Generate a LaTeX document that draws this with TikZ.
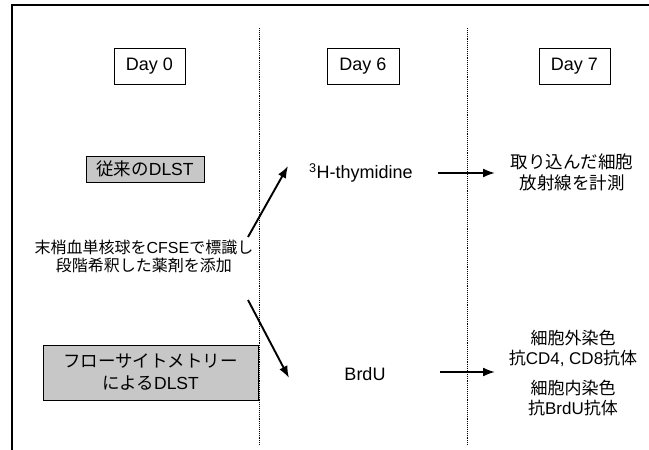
\documentclass[tikz,border=0pt]{standalone}
\usepackage{fontspec}
\setmainfont{Liberation Sans}
\newfontfamily\jp{Noto Sans CJK JP}
\usetikzlibrary{arrows.meta}
\tikzset{
  daybox/.style={draw=black, line width=1pt, minimum width=72, minimum height=36, inner sep=0pt, font=\fontsize{18}{20}\selectfont},
  graybox/.style={draw=black, line width=1pt, fill=black!22, inner sep=0pt, align=center, font=\fontsize{17.5}{21}\selectfont},
  txt/.style={align=center, inner sep=0pt, font=\fontsize{17.5}{21}\selectfont},
  sep/.style={densely dotted, line width=0.9pt},
  frame/.style={line width=1.2pt},
  arr/.style={line width=1.9pt, -{Latex[length=12pt,width=9pt]}},
}
\begin{document}
\begin{tikzpicture}[x=1pt,y=-1pt]
\useasboundingbox (0,0) rectangle (649,450);
% frame
\coordinate (f1) at (12,450);
\coordinate (f2) at (12,5);
\coordinate (f3) at (649,5);
\draw[frame] (f1) -- (f2) -- (f3);
% separators
\coordinate (s1t) at (259,28);
\coordinate (s1b) at (259,445);
\coordinate (s2t) at (467,28);
\coordinate (s2b) at (467,445);
\draw[sep] (s1t) -- (s1b);
\draw[sep] (s2t) -- (s2b);
% day boxes
\node[daybox, minimum width=71] (d0) at (149.5,66) {Day 0};
\node[daybox] (d6) at (363,66) {Day 6};
\node[daybox, minimum width=71] (d7) at (574.5,66) {Day 7};
% left column
\node[graybox, minimum width=118, minimum height=26] (conv) at (145,169) {{\jp 従来の}DLST};
\node[txt, font=\fontsize{16}{18}\selectfont] (cfse) at (144,256.5) {{\jp 末梢血単核球を}CFSE{\jp で標識し}\\{\jp 段階希釈した薬剤を添加}};
\node[graybox, minimum width=215, minimum height=55, font=\fontsize{17.5}{22}\selectfont] (flow) at (150.5,372.5) {{\jp フローサイトメトリー}\\{\jp による}DLST};
% middle column
\node[txt, font=\fontsize{18}{21}\selectfont] (thy) at (361,173) {\textsuperscript{3}H-thymidine};
\node[txt, font=\fontsize{18}{21}\selectfont] (brdu) at (365,374) {BrdU};
% right column
\node[txt] (meas) at (572,172.5) {{\jp 取り込んだ細胞}\\{\jp 放射線を計測}};
\node[txt, font=\fontsize{17}{20}\selectfont] (ext) at (573,348) {{\jp 細胞外染色}\\{\jp 抗}CD4, CD8{\jp 抗体}};
\node[txt, font=\fontsize{17}{20}\selectfont] (int) at (573,398) {{\jp 細胞内染色}\\{\jp 抗}BrdU{\jp 抗体}};
% arrows
\coordinate (a1s) at (248,237);
\coordinate (a1e) at (288,166);
\coordinate (a2s) at (248,300);
\coordinate (a2e) at (289,378);
\coordinate (a3s) at (438,173);
\coordinate (a3e) at (495,173);
\coordinate (a4s) at (440,372);
\coordinate (a4e) at (495,372);
\draw[arr] (a1s) -- (a1e);
\draw[arr] (a2s) -- (a2e);
\draw[arr] (a3s) -- (a3e);
\draw[arr] (a4s) -- (a4e);
\end{tikzpicture}
\end{document}
